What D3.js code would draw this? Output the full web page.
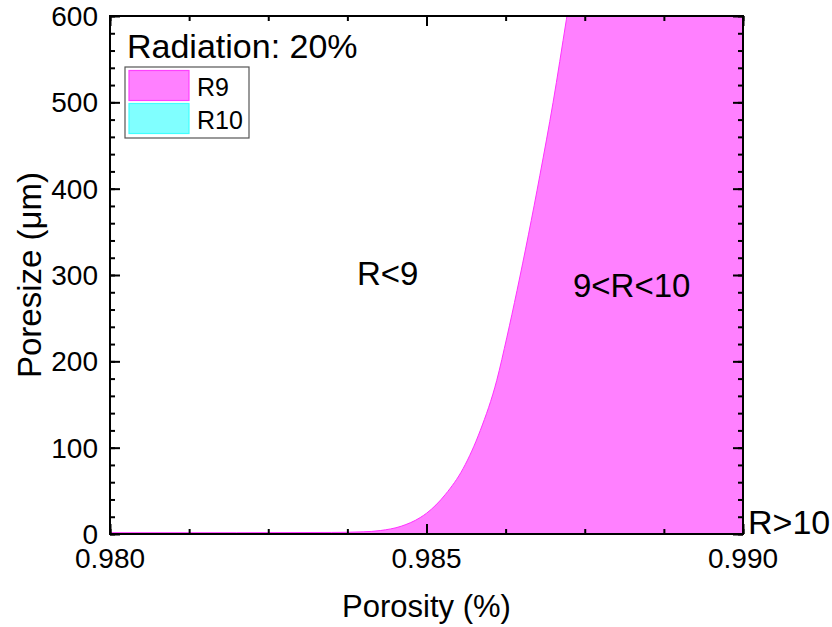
<!DOCTYPE html>
<html>
<head>
<meta charset="utf-8">
<script src="https://cdnjs.cloudflare.com/ajax/libs/d3/7.8.5/d3.min.js"></script>
<style>
  body { margin: 0; background: #fff; }
  svg text { font-family: Arial, "Liberation Sans", sans-serif; fill: #000; }
</style>
</head>
<body>
<div id="chart"></div>
<script>
// R9 boundary (porosity vs poresize in um)
var porosity = [0.980, 0.982, 0.9835, 0.984, 0.98427, 0.9846, 0.9849, 0.9850, 0.9853,
                0.98558, 0.98585, 0.98611, 0.98627, 0.98643, 0.98679, 0.98700, 0.98721,
                0.9875, 0.988, 0.989, 0.990];
var poresizeR9 = [1.5, 1.5, 1.8, 2.5, 4, 9, 19, 24, 46,
                  76, 120, 178, 228, 282, 415, 500, 596,
                  730, 950, 1500, 2200];

var xTicks = [0.980, 0.985, 0.990];
var yTicks = [0, 100, 200, 300, 400, 500, 600];
var legendNames = ["R9", "R10"];
var legendFill = ["#ff80ff", "#80ffff"];
var legendStroke = ["#ff40ff", "#40ffff"];

var width = 832, height = 627;
var margin = {left: 110, right: 89, top: 16, bottom: 93};

var svg = d3.select("#chart").append("svg")
    .attr("width", width)
    .attr("height", height);

var x = d3.scaleLinear().domain([0.980, 0.990]).range([margin.left, width - margin.right]);
var y = d3.scaleLinear().domain([0, 600]).range([height - margin.bottom, margin.top]);

svg.append("clipPath").attr("id", "plotclip")
  .append("rect")
    .attr("x", x(0.980)).attr("y", y(600))
    .attr("width", x(0.990) - x(0.980)).attr("height", y(0) - y(600));

var data = porosity.map(function(p, i){ return {p: p, v: poresizeR9[i]}; });

var area = d3.area()
    .x(function(d){ return x(d.p); })
    .y0(y(0))
    .y1(function(d){ return y(d.v); })
    .curve(d3.curveMonotoneX);

var line = d3.line()
    .x(function(d){ return x(d.p); })
    .y(function(d){ return y(d.v); })
    .curve(d3.curveMonotoneX);

var g = svg.append("g").attr("clip-path", "url(#plotclip)");
g.append("path").datum(data)
    .attr("d", area)
    .attr("fill", legendFill[0]);
g.append("path").datum(data)
    .attr("d", line)
    .attr("fill", "none")
    .attr("stroke", "#ff30ff")
    .attr("stroke-width", 1);

// axes: ticks pointing inward, minor ticks between
var xMinor = d3.range(0, 9).map(function(i){ return 0.980 + i * 0.00125; });
var yMinor = d3.range(0, 31).map(function(i){ return i * 20; });

function drawTicks(axis, pos, major, minor){
    var a = svg.append("g").attr("transform", pos);
    a.call(axis.tickValues(minor).tickSize(5).tickFormat(""));
    a.select(".domain").remove();
    var b = svg.append("g").attr("transform", pos);
    b.call(axis.tickValues(major).tickSize(10).tickFormat(""));
    b.select(".domain").remove();
    a.selectAll("line").attr("stroke", "#000").attr("stroke-width", 2);
    b.selectAll("line").attr("stroke", "#000").attr("stroke-width", 2);
}

drawTicks(d3.axisTop(x), "translate(0," + y(0) + ")", xTicks, xMinor);
drawTicks(d3.axisBottom(x), "translate(0," + y(600) + ")", xTicks, xMinor);
drawTicks(d3.axisRight(y), "translate(" + x(0.980) + ",0)", yTicks, yMinor);
drawTicks(d3.axisLeft(y), "translate(" + x(0.990) + ",0)", yTicks, yMinor);

// tick labels
svg.selectAll(".xlab").data(xTicks).enter().append("text")
    .attr("class", "xlab")
    .attr("x", function(d){ return x(d); })
    .attr("y", 568)
    .attr("text-anchor", "middle").attr("font-size", 28)
    .text(d3.format(".3f"));
svg.selectAll(".ylab").data(yTicks).enter().append("text")
    .attr("class", "ylab")
    .attr("x", 98)
    .attr("y", function(d){ return y(d); })
    .attr("dy", "0.36em")
    .attr("text-anchor", "end").attr("font-size", 28)
    .text(d3.format("d"));

svg.append("rect")
    .attr("x", x(0.980)).attr("y", y(600))
    .attr("width", x(0.990) - x(0.980)).attr("height", y(0) - y(600))
    .attr("fill", "none").attr("stroke", "#000").attr("stroke-width", 2);

// axis titles
svg.append("text")
    .attr("x", (x(0.980) + x(0.990)) / 2).attr("y", 617)
    .attr("text-anchor", "middle").attr("font-size", 31)
    .text("Porosity (%)");
svg.append("text")
    .attr("transform", "translate(41," + ((y(0) + y(600)) / 2) + ") rotate(-90)")
    .attr("text-anchor", "middle").attr("font-size", 33)
    .text("Poresize (\u03bcm)");

// annotations
svg.append("text").attr("x", 127).attr("y", 58).attr("font-size", 34).text("Radiation: 20%");
svg.append("text").attr("x", 357).attr("y", 285).attr("font-size", 33).text("R<9");
svg.append("text").attr("x", 573).attr("y", 297).attr("font-size", 33).text("9<R<10");
svg.append("text").attr("x", 748).attr("y", 534).attr("font-size", 34).text("R>10");

// legend
var lg = svg.append("g").attr("transform", "translate(125,67)");
lg.append("rect").attr("width", 124).attr("height", 71)
    .attr("fill", "#fff").attr("stroke", "#555").attr("stroke-width", 1.2);
var items = lg.selectAll(".legend-item").data(legendNames).enter().append("g")
    .attr("class", "legend-item")
    .attr("transform", function(d, i){ return "translate(4," + (3.5 + i * 33) + ")"; });
items.append("rect").attr("width", 60).attr("height", 30)
    .attr("fill", function(d, i){ return legendFill[i]; })
    .attr("stroke", function(d, i){ return legendStroke[i]; })
    .attr("stroke-width", 1.2);
items.append("text").attr("x", 68).attr("y", 25).attr("font-size", 25)
    .text(function(d){ return d; });
</script>
</body>
</html>
